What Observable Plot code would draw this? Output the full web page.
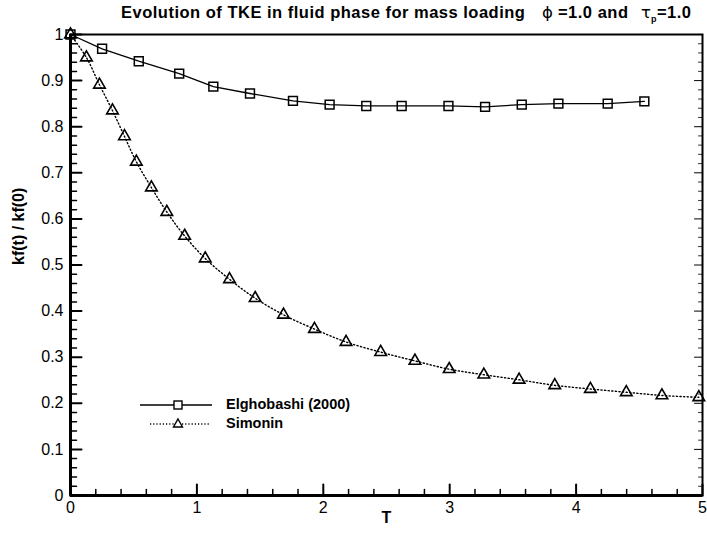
<!DOCTYPE html>
<html><head><meta charset="utf-8">
<script src="https://cdn.jsdelivr.net/npm/d3@7"></script>
<script src="https://cdn.jsdelivr.net/npm/@observablehq/plot@0.6"></script>
<style>
body{margin:0;background:#fff;font-family:"Liberation Sans",Arial,sans-serif;color:#000;}
#wrap{position:relative;width:707px;height:535px;overflow:hidden;}
#title{position:absolute;left:0;top:0;width:707px;height:24px;font-weight:bold;font-size:16.5px;letter-spacing:0.5px;}
#title > span{position:absolute;top:3px;white-space:nowrap;}
#title .sym{font-family:"DejaVu Sans",sans-serif;font-weight:normal;letter-spacing:0;}
#chart{position:absolute;left:0;top:24px;}
#legend{position:absolute;left:140px;top:395px;font-weight:bold;font-size:14.5px;}
#legend .row{position:absolute;left:86px;white-space:nowrap;}
</style></head><body>
<div id="wrap">
  <div id="title">
    <span style="left:121px">Evolution of TKE in fluid phase for mass loading</span>
    <span style="left:542px"><span class="sym">ϕ</span> =1.0 and</span>
    <span style="left:641px"><span class="sym">τ</span><sub style="font-size:9px">p</sub>=1.0</span>
  </div>
  <div id="chart"></div>
  <div id="legend">
    <svg width="80" height="40" style="position:absolute;left:0;top:0">
      <line x1="0" y1="10" x2="72" y2="10" stroke="#000" stroke-width="1.3"/>
      <rect x="34" y="6" width="8" height="8" fill="#fff" stroke="#000" stroke-width="1.4"/>
      <line x1="10" y1="29" x2="70" y2="29" stroke="#000" stroke-width="1.3" stroke-dasharray="1.2,2"/>
      <path d="M38,24 L42.5,32 L33.5,32 Z" fill="#fff" stroke="#000" stroke-width="1.4"/>
    </svg>
    <div class="row" style="top:1px">Elghobashi (2000)</div>
    <div class="row" style="top:20px">Simonin</div>
  </div>
</div>
<script>
// ---- data ----
const elgT = [0, 0.25, 0.54, 0.86, 1.13, 1.42, 1.76, 2.05, 2.34, 2.62, 2.99, 3.28, 3.57, 3.86, 4.25, 4.54];
const elgK = [1.0, 0.969, 0.942, 0.915, 0.887, 0.872, 0.856, 0.848, 0.845, 0.845, 0.845, 0.843, 0.848, 0.850, 0.850, 0.855];
const simT = [0, 0.126, 0.229, 0.332, 0.427, 0.521, 0.640, 0.762, 0.903, 1.066, 1.258, 1.461, 1.685, 1.930, 2.18, 2.454, 2.725, 2.996, 3.27, 3.549, 3.831, 4.113, 4.397, 4.679, 4.971];
const simK = [1.0, 0.950, 0.891, 0.835, 0.779, 0.724, 0.668, 0.615, 0.563, 0.514, 0.469, 0.428, 0.392, 0.361, 0.333, 0.311, 0.292, 0.274, 0.262, 0.251, 0.239, 0.231, 0.224, 0.217, 0.213];
const xTicks = [0, 1, 2, 3, 4, 5];
const xTickLabels = ["0", "1", "2", "3", "4", "5"];
const yTicks = [0, 0.1, 0.2, 0.3, 0.4, 0.5, 0.6, 0.7, 0.8, 0.9, 1];
const yTickLabels = ["0", "0.1", "0.2", "0.3", "0.4", "0.5", "0.6", "0.7", "0.8", "0.9", "1"];
const xLabel = "T";
const yLabel = "kf(t) / kf(0)";

const elg = elgT.map((t, i) => ({T: t, k: elgK[i]}));
const sim = simT.map((t, i) => ({T: t, k: simK[i]}));
const xMinor = d3.range(0, 5.001, 0.2).filter(v => Math.abs(v - Math.round(v)) > 1e-6);
const yMinor = d3.range(0, 1.001, 0.02).filter(v => Math.abs(v * 10 - Math.round(v * 10)) > 1e-6);

const tickShape = {draw(ctx, l) { ctx.moveTo(0, 0); ctx.lineTo(0, -l); }};
const tk = (data, opts) => Plot.vector(data, {anchor: "start", shape: tickShape, stroke: "#000", ...opts});

const chart = Plot.plot({
  width: 707, height: 511,
  marginTop: 10, marginBottom: 40, marginLeft: 70, marginRight: 5,
  x: {domain: [0, 5]},
  y: {domain: [0, 1]},
  style: {fontFamily: "'Liberation Sans', Arial, sans-serif", fontSize: "16px", color: "#000", background: "#fff", overflow: "visible"},
  marks: [
    Plot.axisX(xTicks, {tickSize: 0, tickPadding: 6, label: null, fontSize: 16,
      tickFormat: d => xTickLabels[xTicks.indexOf(d)]}),
    Plot.axisY(yTicks, {tickSize: 0, tickPadding: 7, label: null, fontSize: 16,
      tickFormat: d => yTickLabels[yTicks.indexOf(d)]}),
    // inward ticks
    tk(yTicks, {x: () => 0, y: d => d, rotate: 90, length: 11, strokeWidth: 2}),
    tk(yMinor, {x: () => 0, y: d => d, rotate: 90, length: 6, strokeWidth: 1.5}),
    tk(yTicks, {x: () => 5, y: d => d, rotate: -90, length: 8, strokeWidth: 1}),
    tk(yMinor, {x: () => 5, y: d => d, rotate: -90, length: 4, strokeWidth: 0.8}),
    tk(xTicks, {x: d => d, y: () => 0, rotate: 0, length: 11, strokeWidth: 2}),
    tk(xMinor, {x: d => d, y: () => 0, rotate: 0, length: 6, strokeWidth: 1.5}),
    Plot.frame({stroke: "#000", strokeWidth: 2}),
    Plot.ruleX([0], {stroke: "#000", strokeWidth: 3}),
    Plot.ruleY([0], {stroke: "#000", strokeWidth: 3}),
    // series
    Plot.line(elg, {x: "T", y: "k", stroke: "#000", strokeWidth: 1.3}),
    Plot.line(sim, {x: "T", y: "k", stroke: "#000", strokeWidth: 1.4, strokeDasharray: "1.2,2.4", curve: "catmull-rom"}),
    Plot.dot(elg, {x: "T", y: "k", symbol: "square", r: 5, stroke: "#000", strokeWidth: 1.5, fill: "none"}),
    Plot.dot(sim, {x: "T", y: "k", symbol: "triangle", r: 4.3, stroke: "#000", strokeWidth: 1.6, fill: "none"}),
    // axis titles
    Plot.text([xLabel], {frameAnchor: "bottom", dy: 27, text: d => d, fontWeight: "bold", fontSize: 16}),
    Plot.text([yLabel], {frameAnchor: "left", dx: -52, dy: 0, rotate: -90, text: d => d, fontWeight: "bold", fontSize: 16, letterSpacing: "1px"})
  ]
});
document.getElementById("chart").appendChild(chart);
</script>
</body></html>
